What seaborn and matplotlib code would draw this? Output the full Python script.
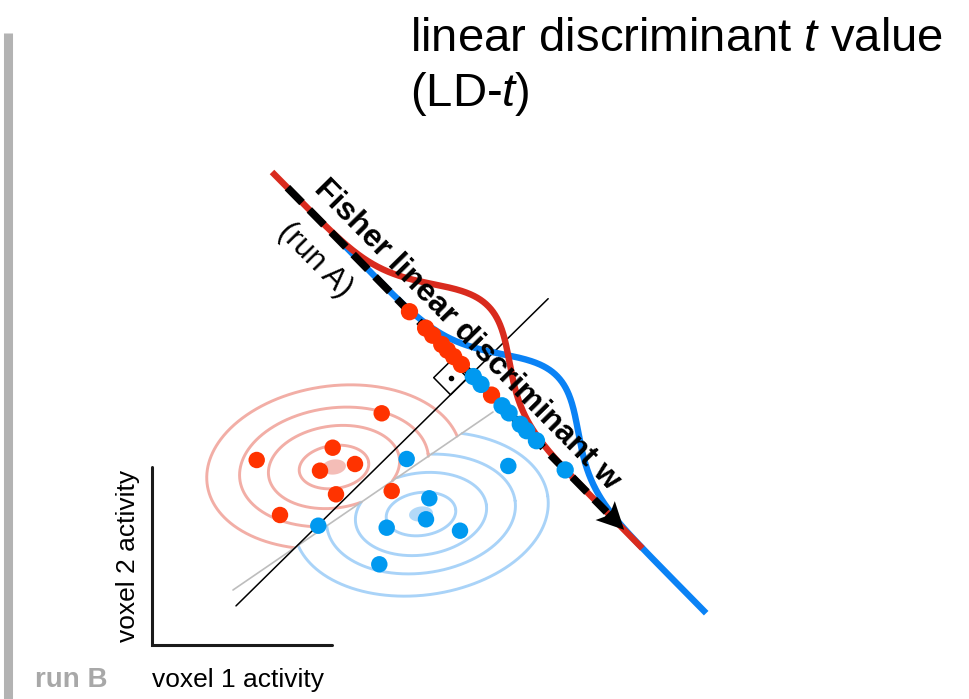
#diagrama LD-t: proyeccion de dos clases sobre el discriminante lineal de Fisher
import numpy as np
import pandas as pd
import seaborn as sns
import matplotlib.pyplot as plt

#puntos de cada clase (voxel 1, voxel 2), en pixeles del lienzo (y hacia abajo)
red_x = [381.7, 256.7, 332.7, 355.0, 320.0, 336.0, 280.0, 391.7]
red_y = [413.3, 460.0, 447.7, 464.0, 470.7, 494.3, 515.0, 491.0]
blue_x = [406.7, 508.3, 318.3, 429.3, 426.0, 386.7, 460.0, 379.3]
blue_y = [459.0, 466.0, 525.7, 498.3, 519.3, 527.7, 530.7, 564.3]

#valores proyectados sobre el eje discriminante (distancia desde el origen del eje)
red_ld = [196, 219, 229, 242, 250, 259, 270, 313]
blue_ld = [287, 298, 328, 338, 354, 363, 377, 418]

#eje discriminante
axis_origin = np.array([272.0, 172.0])
axis_angle = 45.46            #grados, hacia abajo a la derecha
red_span = (0, 528)
blue_span = (100, 619)
curve_sd = 54
curve_height = 60
ld_threshold = 284            #frontera de decision
arrow_span = (22, 502)

#contornos de las dos distribuciones
red_center = (334, 467)
blue_center = (421, 514)
ring_a = [35, 66, 95, 128]
ring_b = [21.5, 41, 59, 81]
ring_tilt = -8
gray_start = np.array([233.0, 590.0])
gray_end = np.array([493.0, 412.0])

sns.set_theme(style="white")
plt.rcParams["font.family"] = ["Liberation Sans", "DejaVu Sans"]
plt.rcParams["text.color"] = "black"
plt.rcParams["mathtext.fontset"] = "custom"
plt.rcParams["mathtext.rm"] = "Liberation Sans"
plt.rcParams["mathtext.it"] = "Liberation Sans:italic"
plt.rcParams["lines.scale_dashes"] = False

fig = plt.figure(figsize=(9.7, 6.99), dpi=100)
ax = fig.add_axes([0, 0, 1, 1])
ax.set_xlim(0, 970)
ax.set_ylim(699, 0)
ax.axis("off")

th = np.deg2rad(axis_angle)
u = np.array([np.cos(th), np.sin(th)])
n = np.array([u[1], -u[0]])   #perpendicular hacia arriba-derecha

def on_axis(t, h=0):
    t = np.asarray(t, dtype=float)
    h = np.asarray(h, dtype=float)
    return axis_origin[0] + t * u[0] + h * n[0], axis_origin[1] + t * u[1] + h * n[1]

def side(x, y):
    d = gray_end - gray_start
    return d[0] * (y - gray_start[1]) - d[1] * (x - gray_start[0])

#elipses recortadas por la linea gris
tt = np.linspace(0, 2 * np.pi, 900)
phi = np.deg2rad(ring_tilt)
for c, col, fillcol in [(red_center, "#f2aea6", "#f4bdb7"), (blue_center, "#a9d3f8", "#b3d9f8")]:
    s0 = np.sign(side(*c))
    for a, b in zip(ring_a, ring_b):
        ex = c[0] + a * np.cos(tt) * np.cos(phi) - b * np.sin(tt) * np.sin(phi)
        ey = c[1] + a * np.cos(tt) * np.sin(phi) + b * np.sin(tt) * np.cos(phi)
        keep = np.sign(side(ex, ey)) == s0
        ex = np.where(keep, ex, np.nan)
        ey = np.where(keep, ey, np.nan)
        ax.plot(ex, ey, color=col, lw=2.1, zorder=1)
    fx = c[0] + 12 * np.cos(tt) * np.cos(phi) - 7.5 * np.sin(tt) * np.sin(phi)
    fy = c[1] + 12 * np.cos(tt) * np.sin(phi) + 7.5 * np.sin(tt) * np.cos(phi)
    ax.fill(fx, fy, color=fillcol, lw=0, zorder=1)

#linea gris y frontera de decision
ax.plot([gray_start[0], gray_end[0]], [gray_start[1], gray_end[1]], color="#bdbdbd", lw=1.2, zorder=2)
bx, by = on_axis(ld_threshold, np.array([-330, 108]))
ax.plot(bx, by, color="black", lw=1.1, zorder=2)

#marca de angulo recto
sq = 24
cx0, cy0 = on_axis(ld_threshold, -5)
corner = np.array([cx0, cy0])
pts = [corner, corner - sq * u, corner - sq * u - sq * n, corner - sq * n, corner]
ax.plot([p[0] for p in pts], [p[1] for p in pts], color="black", lw=1.1, zorder=2)
mid = corner - sq / 2 * u - sq / 2 * n
ax.plot(mid[0], mid[1], "o", color="black", ms=3, zorder=2)

#puntos de los datos
df = pd.DataFrame({"x": red_x + blue_x, "y": red_y + blue_y,
                   "clase": ["A"] * len(red_x) + ["B"] * len(blue_x)})
pal = {"A": "#ff3300", "B": "#0099f0"}
sns.scatterplot(data=df, x="x", y="y", hue="clase", palette=pal, s=140,
                linewidth=0, legend=False, ax=ax, zorder=5)

#distribuciones sobre el eje discriminante
for ld, span, col, z in [(blue_ld, blue_span, "#0a82f5", 3), (red_ld, red_span, "#d92b1e", 3.1)]:
    t = np.linspace(span[0], span[1], 600)
    h = curve_height * np.exp(-0.5 * ((t - np.mean(ld)) / curve_sd) ** 2)
    cx, cy = on_axis(t, h)
    ax.plot(cx, cy, color=col, lw=4.6, solid_capstyle="butt", zorder=z)

#flecha discontinua (direccion w)
head_len, head_w = 27, 13.5
ax_x, ax_y = on_axis([arrow_span[0], arrow_span[1] - head_len + 2])
ax.plot(ax_x, ax_y, color="black", lw=5.5, linestyle=(0, (15, 7.5)),
        dash_capstyle="butt", zorder=4)
tip = np.array(on_axis(arrow_span[1]))
base = tip - head_len * u
head = np.array([tip, base + head_w * n, base + head_w * 0.35 * n + 4 * u,
                 base - head_w * 0.35 * n + 4 * u, base - head_w * n])
ax.fill(head[:, 0], head[:, 1], color="black", lw=0, zorder=4)

#proyecciones
px_r, py_r = on_axis(red_ld)
px_b, py_b = on_axis(blue_ld)
proj = pd.DataFrame({"x": np.r_[px_r, px_b], "y": np.r_[py_r, py_b],
                     "clase": ["A"] * len(red_ld) + ["B"] * len(blue_ld)})
sns.scatterplot(data=proj, x="x", y="y", hue="clase", palette=pal, s=155,
                linewidth=0, legend=False, ax=ax, zorder=5)

#textos
tx, ty = on_axis(253, 25)
ax.text(tx, ty, "Fisher linear discriminant w", rotation=-axis_angle, rotation_mode="anchor",
        ha="center", va="center", fontsize=23, fontweight="bold", color="black", zorder=6)
tx, ty = on_axis(93, -31)
ax.text(tx, ty, "(run A)", rotation=-axis_angle, rotation_mode="anchor",
        ha="center", va="center", fontsize=22, color="black", zorder=6)

ax.text(410, 51, "linear discriminant $t$ value", fontsize=34, ha="left", va="baseline")
ax.text(410, 106, "(LD-$t$)", fontsize=34, ha="left", va="baseline")

#ejes del diagrama
ax.plot([152, 152, 332], [467, 645, 645], color="#1a1a1a", lw=2.2, solid_joinstyle="miter", zorder=2)
ax.text(128, 556, "voxel 2 activity", rotation=90, ha="center", va="center", fontsize=19)
ax.text(152, 680, "voxel 1 activity", ha="left", va="center", fontsize=19)
ax.text(35, 680, "run B", ha="left", va="center", fontsize=20, fontweight="bold", color="#a8a8a8")
ax.plot([8.5, 8.5], [33, 699], color="#b3b3b3", lw=6.5, solid_capstyle="butt")

plt.savefig("out.png", dpi=100)
